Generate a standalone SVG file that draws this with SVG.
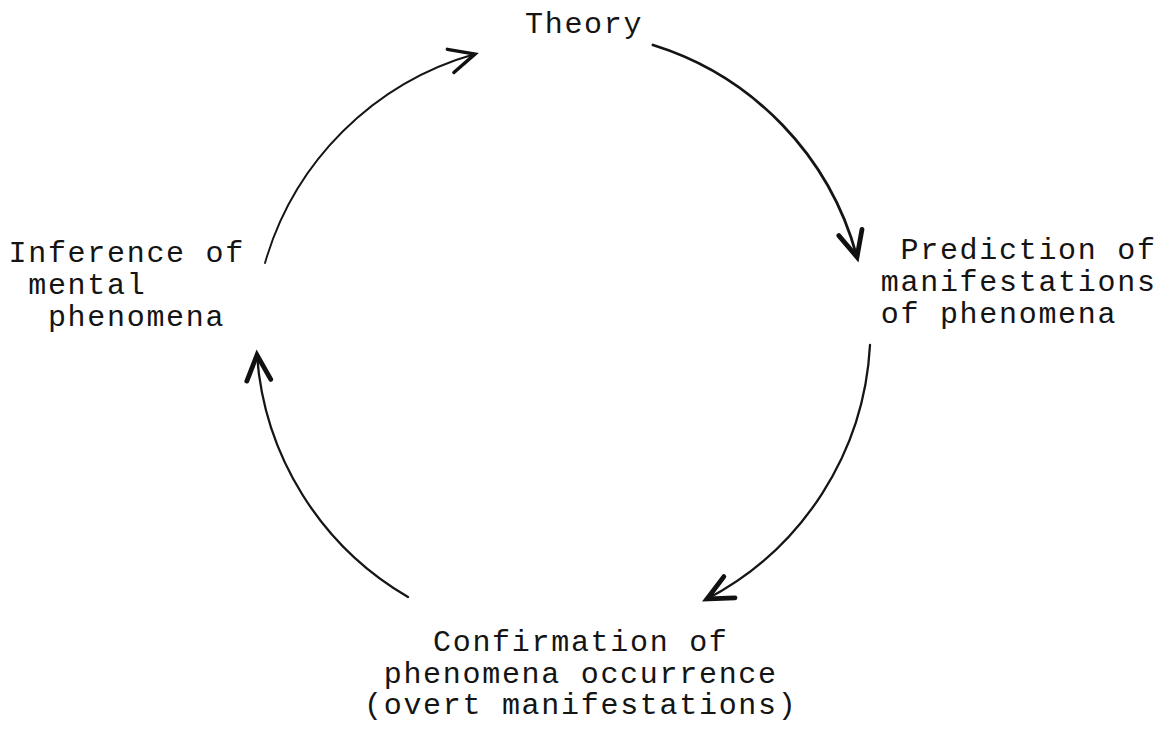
<svg xmlns="http://www.w3.org/2000/svg" width="1168" height="731" viewBox="0 0 1168 731">
<style>
text { font-family: "Liberation Mono", "DejaVu Sans Mono", monospace; font-size: 30px; letter-spacing: 1.7px; fill: #141414; }
.arc { fill: none; stroke: #151515; stroke-linecap: round; }
</style>
<defs>
<marker id="ah" markerUnits="userSpaceOnUse" markerWidth="40" markerHeight="40" viewBox="-25 -15 30 30" refX="0" refY="0" orient="auto" overflow="visible">
<path d="M-19,-9 L0,0 L-19,9" fill="none" stroke="#111" stroke-width="3.6" stroke-linejoin="miter" stroke-linecap="round"/>
</marker>
<marker id="ah-thin" markerUnits="userSpaceOnUse" markerWidth="40" markerHeight="40" viewBox="-25 -15 30 30" refX="0" refY="0" orient="auto" overflow="visible">
<path d="M-19,-9 L0,0 L-19,9" fill="none" stroke="#111" stroke-width="2.6" stroke-linejoin="miter" stroke-linecap="round"/>
</marker>
</defs>
<rect width="1168" height="731" fill="#ffffff"/>
<g id="connectors">
<path class="arc" d="M 265 263 A 305 305 0 0 1 475 54" stroke-width="1.9" marker-end="url(#ah-thin)"/>
<path class="arc" d="M 653 45 A 305 305 0 0 1 857 257" stroke-width="2.8" marker-end="url(#ah)"/>
<path class="arc" d="M 870 345 A 305 305 0 0 1 707 599" stroke-width="2.3" marker-end="url(#ah)"/>
<path class="arc" d="M 408 597 A 305 305 0 0 1 257 355" stroke-width="2.3" marker-end="url(#ah)"/>
</g>
<g id="node-theory">
<text x="525" y="33">Theory</text>
</g>
<g id="node-prediction">
<text x="900.5" y="259">Prediction of</text>
<text x="880.8" y="291">manifestations</text>
<text x="880.8" y="323">of phenomena</text>
</g>
<g id="node-confirmation">
<text x="433" y="651">Confirmation of</text>
<text x="383.7" y="683">phenomena occurrence</text>
<text x="364" y="714">(overt manifestations)</text>
</g>
<g id="node-inference">
<text x="8.5" y="262">Inference of</text>
<text x="28.2" y="294">mental</text>
<text x="47.9" y="326">phenomena</text>
</g>
</svg>
